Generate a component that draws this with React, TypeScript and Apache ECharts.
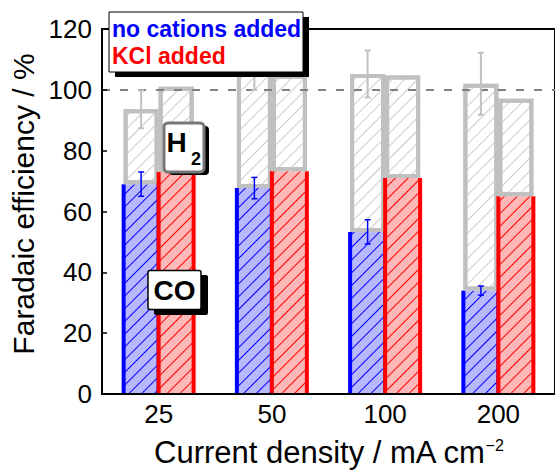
import React, { useEffect, useRef } from 'react';
import * as echarts from 'echarts';

// ---- data ----
const categories = ['25', '50', '100', '200'];
const coNoCations = [69, 67.7, 53.3, 34];
const coNoCationsErr = [4, 3.5, 4, 1.5];
const h2NoCations = [24.6, 38.3, 51.9, 68];
const totalNoCationsErr = [6.2, 6, 7.7, 10.2];
const coKCl = [73, 73.2, 71, 65];
const h2KCl = [28, 31.8, 33.7, 32.1];
const yMin = 0;
const yMax = 120;
const yInterval = 20;
const refLine = 100;
const legendLabels = ['no cations added', 'KCl added'];

const FONT = '"Liberation Sans", Arial, Helvetica, sans-serif';
const BAR_W = 35;
const BLUE = '#0000ff';
const RED = '#ff0000';
const GRAY = '#c0c0c0';

const hatch = (color: string) => ({
  symbol: 'rect',
  symbolSize: 1,
  dashArrayX: [1, 0],
  dashArrayY: [1, 8],
  rotation: -Math.PI / 4,
  color,
});

const errRender = (color: string, width: number) => (params: any, api: any) => {
  const x = api.value(0);
  const lo = api.coord([x, api.value(1)]);
  const hi = api.coord([x, api.value(2)]);
  const cx = lo[0] - BAR_W / 2;
  const style = { stroke: color, lineWidth: width, fill: 'none' };
  return {
    type: 'group',
    children: [
      { type: 'line', shape: { x1: cx, y1: lo[1], x2: cx, y2: hi[1] }, style },
      { type: 'line', shape: { x1: cx - 3, y1: lo[1], x2: cx + 3, y2: lo[1] }, style },
      { type: 'line', shape: { x1: cx - 3, y1: hi[1], x2: cx + 3, y2: hi[1] }, style },
    ],
  };
};

// vertical side edges of a CO bar (left & right), drawn from the data through the axes
const edgeRender = (color: string, side: number) => (params: any, api: any) => {
  const x = api.value(0);
  const p0 = api.coord([x, 0]);
  const p1 = api.coord([x, api.value(1)]);
  const left = side < 0 ? p0[0] - BAR_W : p0[0];
  const right = left + BAR_W;
  const style = { stroke: color, lineWidth: 4, fill: 'none' };
  return {
    type: 'group',
    children: [
      { type: 'line', shape: { x1: left, y1: p0[1], x2: left, y2: p1[1] }, style },
      { type: 'line', shape: { x1: right, y1: p0[1], x2: right, y2: p1[1] }, style },
    ],
  };
};

export default function App() {
  const ref = useRef<HTMLDivElement>(null);
  useEffect(() => {
    if (!ref.current) return;
    const chart = echarts.init(ref.current, undefined, { renderer: 'svg' });
    const coErrData = coNoCations.map((v, i) => [i, v - coNoCationsErr[i], v + coNoCationsErr[i]]);
    const totErrData = coNoCations.map((v, i) => {
      const t = v + h2NoCations[i];
      return [i, t - totalNoCationsErr[i], t + totalNoCationsErr[i]];
    });
    const barBase = {
      type: 'bar',
      barWidth: BAR_W,
      barGap: '0%',
      silent: true,
    };
    chart.setOption({
      animation: false,
      backgroundColor: '#ffffff',
      textStyle: { fontFamily: FONT },
      grid: {
        left: 102,
        top: 29,
        width: 458,
        height: 368,
        show: true,
        borderColor: '#000',
        borderWidth: 2,
        containLabel: false,
      },
      xAxis: {
        type: 'category',
        data: categories,
        z: 20,
        axisLine: { lineStyle: { color: '#000', width: 2 } },
        axisTick: { inside: true, alignWithLabel: true, length: 5, lineStyle: { color: '#000', width: 1.5 } },
        axisLabel: { fontSize: 26, color: '#000', margin: 7, fontFamily: FONT },
        name: '{a|Current density / mA cm}{b|\u22122}',
        nameLocation: 'middle',
        nameGap: 43,
        nameTextStyle: {
          color: '#000',
          rich: {
            a: { fontSize: 31, fontFamily: FONT, color: '#000', lineHeight: 31 },
            b: { fontSize: 16, fontFamily: FONT, color: '#000', lineHeight: 16, verticalAlign: 'top' },
          },
        },
      },
      yAxis: {
        type: 'value',
        min: yMin,
        max: yMax,
        interval: yInterval,
        z: 20,
        splitLine: { show: false },
        axisLine: { show: true, lineStyle: { color: '#000', width: 1.5 } },
        axisTick: { show: true, inside: true, length: 5, lineStyle: { color: '#000', width: 1.5 } },
        axisLabel: { fontSize: 26, color: '#000', margin: 10, fontFamily: FONT },
      },
      series: [
        {
          ...barBase,
          name: 'CO no cations',
          stack: 'none',
          z: 2,
          data: coNoCations,
          itemStyle: { color: '#b8b8ff', borderWidth: 0, decal: hatch(BLUE) },
        },
        {
          type: 'custom',
          name: 'CO no cations edges',
          z: 3,
          silent: true,
          data: coNoCations.map((v, i) => [i, v]),
          encode: { x: 0, y: 1 },
          renderItem: edgeRender(BLUE, -1),
        },
        {
          ...barBase,
          name: 'H2 no cations',
          stack: 'none',
          z: 4,
          data: h2NoCations,
          itemStyle: { color: '#ffffff', borderColor: GRAY, borderWidth: 4, decal: hatch('#cccccc') },
        },
        {
          ...barBase,
          name: 'CO KCl',
          stack: 'kcl',
          z: 5,
          data: coKCl,
          itemStyle: { color: '#ffb8b8', borderWidth: 0, decal: hatch(RED) },
        },
        {
          type: 'custom',
          name: 'CO KCl edges',
          z: 6,
          silent: true,
          data: coKCl.map((v, i) => [i, v]),
          encode: { x: 0, y: 1 },
          renderItem: edgeRender(RED, 1),
        },
        {
          ...barBase,
          name: 'H2 KCl',
          stack: 'kcl',
          z: 7,
          data: h2KCl,
          itemStyle: { color: '#ffffff', borderColor: GRAY, borderWidth: 4, decal: hatch('#cccccc') },
        },
        {
          type: 'custom',
          name: 'CO error',
          z: 9,
          silent: true,
          data: coErrData,
          encode: { x: 0, y: [1, 2] },
          renderItem: errRender(BLUE, 1.5),
        },
        {
          type: 'custom',
          name: 'Total error',
          z: 9,
          silent: true,
          data: totErrData,
          encode: { x: 0, y: [1, 2] },
          renderItem: errRender(GRAY, 2),
          markLine: {
            silent: true,
            z: 9,
            symbol: ['none', 'none'],
            label: { show: false },
            lineStyle: { color: '#808080', width: 2, type: [8, 10] },
            data: [{ yAxis: refLine }],
          },
        },
      ],
      graphic: [
        // y axis title
        {
          type: 'text',
          x: 23,
          y: 204,
          rotation: Math.PI / 2,
          z: 50,
          style: {
            text: 'Faradaic efficiency / %',
            fontSize: 30,
            fontFamily: FONT,
            fill: '#000',
            align: 'center',
            verticalAlign: 'middle',
          },
        },
        // legend box
        { type: 'rect', z: 100, shape: { x: 115, y: 17, width: 194, height: 60 }, style: { fill: '#000' } },
        {
          type: 'rect',
          z: 101,
          shape: { x: 109, y: 12, width: 194, height: 60 },
          style: { fill: '#fff', stroke: '#000', lineWidth: 1 },
        },
        {
          type: 'text',
          z: 102,
          x: 112,
          y: 29,
          style: { text: legendLabels[0], fill: BLUE, fontSize: 23, fontWeight: 'bold', fontFamily: FONT, verticalAlign: 'middle' },
        },
        {
          type: 'text',
          z: 102,
          x: 112,
          y: 56,
          style: { text: legendLabels[1], fill: RED, fontSize: 23, fontWeight: 'bold', fontFamily: FONT, verticalAlign: 'middle' },
        },
        // H2 label
        { type: 'rect', z: 100, shape: { x: 169, y: 126, width: 40, height: 49, r: 4 }, style: { fill: '#000' } },
        {
          type: 'rect',
          z: 101,
          shape: { x: 164, y: 123, width: 40, height: 49, r: 4 },
          style: { fill: '#fff', stroke: '#777', lineWidth: 3 },
        },
        {
          type: 'text',
          z: 102,
          x: 176.5,
          y: 142,
          style: { text: 'H', fill: '#000', fontSize: 28, fontWeight: 'bold', fontFamily: FONT, align: 'center', verticalAlign: 'middle' },
        },
        {
          type: 'text',
          z: 102,
          x: 196,
          y: 158.5,
          style: { text: '2', fill: '#000', fontSize: 18, fontWeight: 'bold', fontFamily: FONT, align: 'center', verticalAlign: 'middle' },
        },
        // CO label
        { type: 'rect', z: 100, shape: { x: 154, y: 275, width: 54, height: 40, r: 2 }, style: { fill: '#000' } },
        {
          type: 'rect',
          z: 101,
          shape: { x: 148, y: 270.5, width: 53, height: 39, r: 2 },
          style: { fill: '#fff', stroke: '#000', lineWidth: 1.5 },
        },
        {
          type: 'text',
          z: 102,
          x: 174.5,
          y: 290,
          style: { text: 'CO', fill: '#000', fontSize: 28, fontWeight: 'bold', fontFamily: FONT, align: 'center', verticalAlign: 'middle' },
        },
      ],
    });
    return () => chart.dispose();
  }, []);
  return (
    <div
      ref={ref}
      style={{ position: 'fixed', left: 0, top: 0, width: 555, height: 473, background: '#fff' }}
    />
  );
}
